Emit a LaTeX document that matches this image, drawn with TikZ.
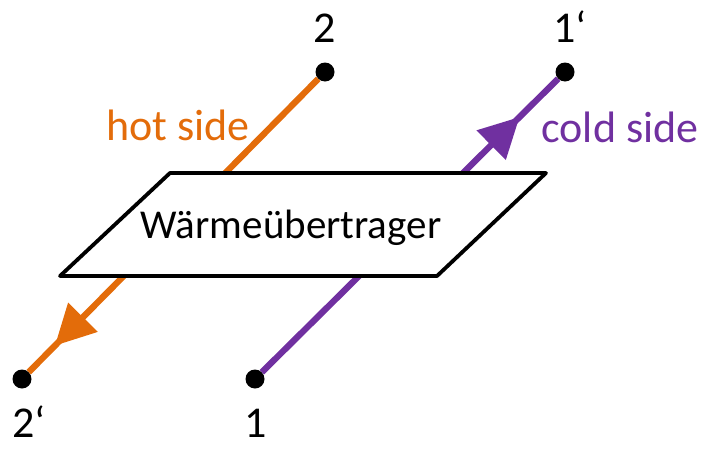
\documentclass[tikz,border=0pt]{standalone}
\usepackage{fontspec}
\setmainfont{Carlito}
\usetikzlibrary{arrows.meta,decorations.markings}
\definecolor{hotc}{RGB}{227,108,10}
\definecolor{coldc}{RGB}{112,48,160}
\tikzset{
  port/.style={circle,fill=black,inner sep=0pt,minimum size=19pt},
  lbl/.style={font=\fontsize{44}{48}\selectfont,anchor=base,inner sep=0pt},
  hxfont/.style={font=\fontsize{41}{46}\selectfont,anchor=base,inner sep=0pt},
  stream/.style={line width=6.3pt},
  flowarrow/.style={postaction={decorate},decoration={markings,
    mark=at position #1 with {\arrow{Triangle[length=40pt,width=40pt]}}}},
  hx/.style={draw=black,line width=3.8pt,fill=white,line join=round}
}
\begin{document}
\begin{tikzpicture}[x=1pt,y=-1pt]
\useasboundingbox (0,0) rectangle (710,450);
% ports
\node[port] (p2)  at (325,72)  {};
\node[port] (p1b) at (565,72)  {};
\node[port] (p2b) at (22,379)  {};
\node[port] (p1)  at (255,379) {};
% port labels
\node[lbl] (t2)  at (325,42)  {2};
\node[lbl] (t1b) at (570,42)  {1‘};
\node[lbl] (t2b) at (29,437)  {2‘};
\node[lbl] (t1)  at (256,437) {1};
% streams
\draw[stream,hotc,flowarrow=0.91] (p2) -- (p2b);
\draw[stream,coldc,flowarrow=0.87] (p1) -- (p1b);
\node[lbl,text=hotc]  (hot)  at (178,140) {hot side};
\node[lbl,text=coldc] (cold) at (620,142) {cold side};
% heat exchanger
\coordinate (a) at (170,173);
\coordinate (b) at (546,173);
\coordinate (c) at (437,276);
\coordinate (d) at (60,276);
\draw[hx] (a) -- (b) -- (c) -- (d) -- cycle;
\node[hxfont] (hxl) at (291,238) {Wärmeübertrager};
\end{tikzpicture}
\end{document}
